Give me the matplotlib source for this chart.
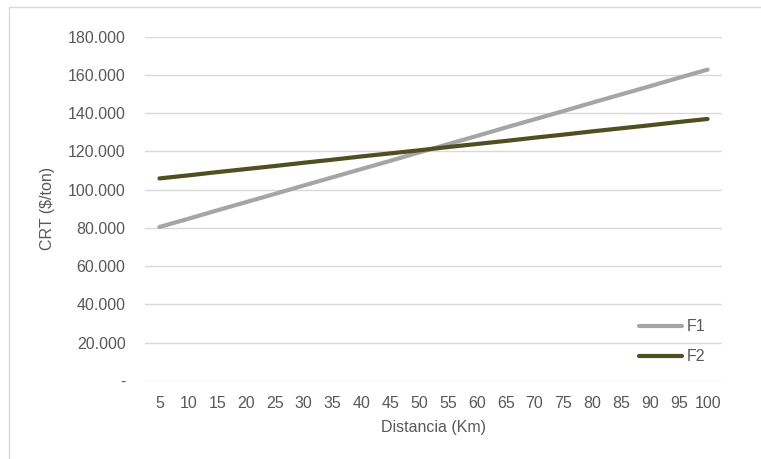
import matplotlib
matplotlib.use("Agg")
import matplotlib.pyplot as plt
from matplotlib.lines import Line2D
from matplotlib.ticker import FuncFormatter

distancia = [5, 10, 15, 20, 25, 30, 35, 40, 45, 50, 55, 60, 65, 70, 75, 80, 85, 90, 95, 100]
f1 = [80500, 84800, 89200, 93500, 97800, 102200, 106500, 110800, 115100, 119500,
      123800, 128100, 132500, 136800, 141100, 145500, 149800, 154100, 158500, 162800]
f2 = [105900, 107500, 109200, 110800, 112400, 114100, 115700, 117400, 119000, 120600,
      122300, 123900, 125500, 127200, 128800, 130500, 132100, 133700, 135400, 137000]
y_ticks = [0, 20000, 40000, 60000, 80000, 100000, 120000, 140000, 160000, 180000]

plt.rcParams['font.family'] = ['Liberation Sans', 'DejaVu Sans']
txt = '#595959'
fs = 11.5

W, H = 761, 459
fig = plt.figure(figsize=(W / 100, H / 100), dpi=100)
ax = fig.add_axes([145 / W, 1 - 381 / H, (722 - 145) / W, (381 - 36.7) / H])

x = list(range(len(distancia)))
ax.plot(x, f1, color='#A5A5A5', lw=3.0, solid_capstyle='round', label='F1', zorder=3)
ax.plot(x, f2, color='#4F4F22', lw=3.0, solid_capstyle='round', label='F2', zorder=3)

ax.set_xlim(-0.5, len(distancia) - 0.5)
ax.set_ylim(0, 180000)
ax.set_yticks(y_ticks)
ax.yaxis.set_major_formatter(FuncFormatter(
    lambda v, p: '-' if v == 0 else f"{int(v):,}".replace(',', '.')))
ax.set_xticks(x)
ax.set_xticklabels([str(d) for d in distancia])
ax.grid(axis='y', color='#D9D9D9', lw=1)
ax.set_axisbelow(True)
for s in ['top', 'right', 'left', 'bottom']:
    ax.spines[s].set_visible(False)
ax.tick_params(axis='both', length=0, colors=txt, labelsize=fs)
ax.tick_params(axis='y', pad=14)
ax.tick_params(axis='x', pad=11)
ax.set_xlabel('Distancia (Km)', color=txt, fontsize=fs, labelpad=6)
ax.set_ylabel('CRT ($/ton)', color=txt, fontsize=fs, labelpad=9)

leg = ax.legend(loc='lower right', bbox_to_anchor=(0.983, 0.03), frameon=False,
                fontsize=fs, handlelength=2.7, handletextpad=0.3,
                labelspacing=0.95, borderaxespad=0)
for t in leg.get_texts():
    t.set_color(txt)

bx, by = 8.5 / W, 1 - 6.5 / H
fig.add_artist(Line2D([bx, bx], [0, by], color='#D9D9D9', lw=1, transform=fig.transFigure))
fig.add_artist(Line2D([bx, 1], [by, by], color='#D9D9D9', lw=1, transform=fig.transFigure))

fig.savefig('out.png', dpi=100)
